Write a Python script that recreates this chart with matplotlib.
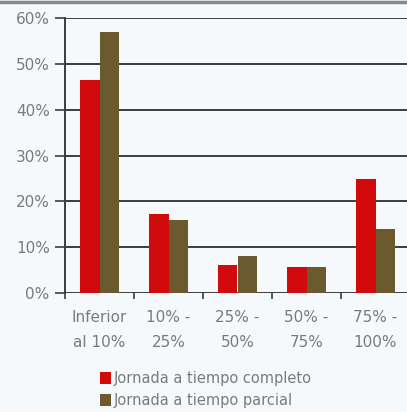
import matplotlib.pyplot as plt
from matplotlib.lines import Line2D
from matplotlib.patches import Rectangle
import numpy as np

categories = ["Inferior\nal 10%", "10% -\n25%", "25% -\n50%", "50% -\n75%", "75% -\n100%"]
completo = [46.5, 17.3, 6.1, 5.7, 24.8]
parcial = [57.0, 15.9, 8.1, 5.7, 13.9]
series_names = ["Jornada a tiempo completo", "Jornada a tiempo parcial"]
y_ticks = [0, 10, 20, 30, 40, 50, 60]
y_labels = ["0%", "10%", "20%", "30%", "40%", "50%", "60%"]

red = "#d20a0c"
olive = "#6b5a2e"
bg = "#f6f9fb"
text_gray = "#7a7a7a"
line_dark = "#3c3c3c"

W, H = 407, 412
fig = plt.figure(figsize=(W / 100, H / 100), dpi=100, facecolor=bg)

left = 65 / W
bottom = (H - 293) / H
top = (H - 18) / H
right = 410 / W
ax = fig.add_axes([left, bottom, right - left, top - bottom])
ax.set_facecolor(bg)

x = np.arange(len(categories))
w = 0.285
ax.bar(x - w / 2, completo, width=w, color=red, zorder=3)
ax.bar(x + w / 2, parcial, width=w, color=olive, zorder=3)

ax.set_xlim(-0.5, len(categories) - 0.5)
ax.set_ylim(0, 60)
ax.set_yticks(y_ticks)
ax.set_yticklabels(y_labels, color=text_gray, fontsize=11)
ax.yaxis.grid(True, color=line_dark, linewidth=1.4, zorder=1)
ax.set_axisbelow(True)

ax.set_xticks(np.arange(len(categories) + 1) - 0.5)
ax.set_xticklabels([])
ax.tick_params(axis="x", length=4, width=1.2, color=line_dark, direction="out")
ax.tick_params(axis="y", length=7, width=1.2, color=line_dark, direction="out", pad=4)

for s in ["top", "right", "bottom"]:
    ax.spines[s].set_visible(False)
ax.spines["left"].set_color(line_dark)
ax.spines["left"].set_linewidth(1.4)

# category labels under each group
for i, lab in enumerate(categories):
    ax.annotate(lab, xy=(i, 0), xycoords=("data", "axes fraction"),
                xytext=(0, -12), textcoords="offset points",
                ha="center", va="top", fontsize=11, color=text_gray,
                linespacing=1.85)

# top rule
fig.add_artist(Line2D([0, 1], [1 - 1.5 / H, 1 - 1.5 / H], color="#8a8a8a",
                      linewidth=2.5, transform=fig.transFigure))

# legend
for j, (name, col) in enumerate(zip(series_names, [red, olive])):
    yc = 378 + j * 22
    fig.add_artist(Rectangle((100 / W, (H - yc - 6) / H), 11 / W, 12 / H,
                             facecolor=col, edgecolor="none",
                             transform=fig.transFigure))
    fig.text(114 / W, (H - yc) / H, name, fontsize=10.5, color=text_gray,
             va="center", ha="left")

fig.savefig("out.png", dpi=100, facecolor=bg)
